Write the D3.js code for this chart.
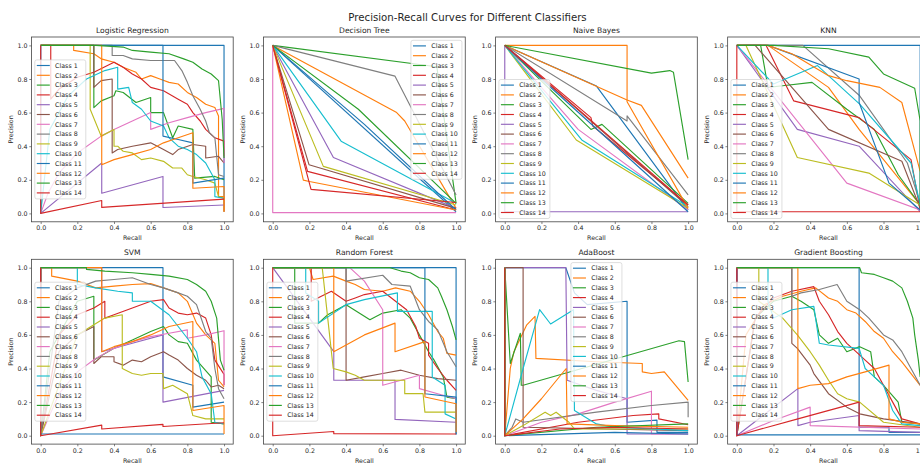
<!DOCTYPE html>
<html>
<head>
<meta charset="utf-8">
<script src="https://cdn.jsdelivr.net/npm/d3@7"></script>
<style>
  body { margin: 0; background: #fff; }
  text { font-family: "DejaVu Sans", sans-serif; fill: #262626; }
</style>
</head>
<body>
<div class="chart-container"></div>
<script>
//Data
const chartTitle = 'Precision-Recall Curves for Different Classifiers';
const classifierNames = ['Logistic Regression', 'Decision Tree', 'Naive Bayes', 'KNN',
                         'SVM', 'Random Forest', 'AdaBoost', 'Gradient Boosting'];
const classNames = ['Class 1', 'Class 2', 'Class 3', 'Class 4', 'Class 5', 'Class 6', 'Class 7',
                    'Class 8', 'Class 9', 'Class 10', 'Class 11', 'Class 12', 'Class 13', 'Class 14'];
const tickValues = [0, 0.2, 0.4, 0.6, 0.8, 1.0];
const tickLabels = ['0.0', '0.2', '0.4', '0.6', '0.8', '1.0'];

// each curve: [recall, precision] points, one curve per class
const logisticRegression = [
  [[1,0.01],[1,1],[0,1]],
  [[1,0.01],[1,0.1],[0.97,0.1],[0.97,0.58],[0.95,0.63],[0.9,0.65],[0.85,0.69],[0.8,0.72],[0.75,0.77],[0.7,0.78],[0.65,0.8],[0.6,0.82],[0.55,0.8],[0.52,0.84],[0.45,0.87],[0.4,0.9],[0.33,0.92],[0.29,0.95],[0.18,0.97],[0.18,1],[0,1]],
  [[1,0.2],[0.95,0.22],[0.84,0.21],[0.83,0.5],[0.75,0.52],[0.72,0.45],[0.67,0.6],[0.6,0.6],[0.6,0.69],[0.52,0.66],[0.45,0.72],[0.41,0.73],[0.4,0.7],[0.33,0.67],[0.29,0.63],[0.29,1],[0,1]],
  [[1,0.34],[1,0.43],[0.95,0.45],[0.9,0.5],[0.87,0.55],[0.83,0.6],[0.8,0.65],[0.75,0.68],[0.67,0.73],[0.6,0.75],[0.55,0.8],[0.5,0.83],[0.45,0.87],[0.4,0.9],[0.29,0.84],[0.2,0.81],[0.1,0.74],[0.055,0.68],[0.055,1],[0,1]],
  [[1,0.05],[0.667,0.035],[0.667,0.22],[0.333,0.12],[0.333,0.3],[0,0],[0,1]],
  [[1,0.3],[0.97,0.34],[0.9,0.33],[0.9,0.4],[0.83,0.41],[0.75,0.38],[0.72,0.35],[0.67,0.38],[0.6,0.42],[0.5,0.4],[0.42,0.38],[0.39,0.36],[0.39,0.8],[0.33,0.79],[0.29,0.75],[0.29,1],[0,1]],
  [[1,0.3],[1,0.625],[0.9,0.6],[0.8,0.57],[0.7,0.54],[0.6,0.5],[0.6,0.6],[0.5,0.55],[0.4,0.5],[0.33,0.46],[0.2,0.36],[0.1,0.24],[0.04,0.12],[0,0],[0,1]],
  [[1,0.22],[0.97,0.23],[0.95,0.45],[0.92,0.48],[0.9,0.55],[0.87,0.62],[0.83,0.7],[0.8,0.78],[0.77,0.85],[0.73,0.91],[0.6,0.91],[0.5,0.92],[0.45,0.94],[0.39,0.94],[0.39,1],[0,1]],
  [[1,0.09],[0.97,0.1],[0.95,0.18],[0.9,0.2],[0.83,0.22],[0.8,0.23],[0.77,0.27],[0.72,0.27],[0.67,0.31],[0.6,0.33],[0.55,0.32],[0.5,0.36],[0.45,0.37],[0.42,0.4],[0.4,0.4],[0.4,0.5],[0.33,0.46],[0.27,0.62],[0.27,1],[0,1]],
  [[1,0.09],[0.95,0.1],[0.95,0.2],[0.9,0.3],[0.85,0.35],[0.8,0.38],[0.75,0.4],[0.7,0.45],[0.67,0.52],[0.6,0.55],[0.55,0.62],[0.5,0.66],[0.48,0.75],[0.42,0.74],[0.42,0.87],[0.35,0.85],[0.25,0.8],[0.15,0.7],[0.05,0.5],[0,0],[0,1]],
  [[1,0.21],[0.83,0.18],[0.83,0.42],[0.75,0.44],[0.667,0.46],[0.667,1],[0,1]],
  [[1,0.01],[1,0.16],[0.83,0.15],[0.83,0.48],[0.75,0.45],[0.67,0.42],[0.6,0.38],[0.5,0.35],[0.4,0.32],[0.333,0.29],[0.333,1],[0,1]],
  [[1,0.33],[0.99,0.56],[0.97,0.79],[0.93,0.83],[0.88,0.86],[0.83,0.9],[0.78,0.92],[0.7,0.95],[0.6,0.96],[0.5,0.97],[0.45,0.99],[0.3,1],[0,1]],
  [[1,0.085],[0.333,0.036],[0.333,0.077],[0,0],[0,1]]
];

const decisionTree = [
  [[1,0.01],[0,1]],
  [[1,0.03],[0.72,0.55],[0.676,0.6],[0,1]],
  [[1,0.06],[0.895,0.873],[0,1]],
  [[1,0.02],[0.19,0.25],[0,1]],
  [[1,0.03],[0.331,0.333],[0,1]],
  [[1,0.03],[0.198,0.29],[0,1]],
  [[1,0.005],[0,0.005],[0,1]],
  [[1,0.11],[0.667,0.817],[0,1]],
  [[1,0.05],[0.276,0.28],[0,1]],
  [[1,0.06],[0.373,0.43],[0,1]],
  [[1,0.02],[0.5,0.53],[0,1]],
  [[1,0.02],[0.2,0.19],[0.167,0.198],[0,1]],
  [[1,0.06],[0.467,0.62],[0,1]],
  [[1,0.065],[0.209,0.143],[0,1]]
];

const naiveBayes = [
  [[1,0.02],[0.5,0.758],[0,1]],
  [[1,0.21],[0.745,0.643],[0.667,0.675],[0,1]],
  [[1,0.06],[0.53,0.53],[0.47,0.5],[0,1]],
  [[1,0.05],[0.48,0.52],[0.47,0.57],[0,1]],
  [[1,0.01],[0,0.01],[0,1]],
  [[1,0.04],[0,1]],
  [[1,0.02],[0.4,0.5],[0,1]],
  [[1,0.11],[0.667,0.58],[0.667,0.55],[0,1]],
  [[1,0.03],[0.39,0.437],[0,1]],
  [[1,0.04],[0.42,0.437],[0,1]],
  [[1,0.01],[0.2,0.8],[0,1]],
  [[1,0.03],[0.667,0.665],[0.667,1],[0,1]],
  [[1,0.32],[0.92,0.84],[0.9,0.85],[0.8,0.835],[0,1]],
  [[1,0.05],[0,1]]
];

const knn = [
  [[1,0.01],[1,1],[0,1]],
  [[1,0.05],[0.667,0.5],[0.5,0.75],[0.17,1],[0,1]],
  [[1,0.05],[0.88,0.23],[0.75,0.5],[0.6,0.62],[0.41,0.78],[0.25,0.76],[0.17,0.75],[0.13,1],[0,1]],
  [[1,0.02],[0.95,0.32],[0.667,0.57],[0.31,0.67],[0.16,1],[0,1]],
  [[1,0.01],[0.667,0.4],[0.33,0.5],[0,1]],
  [[1,0.03],[0.9,0.31],[0.5,0.5],[0.1,1],[0,1]],
  [[1,0.02],[0.6,0.18],[0,1]],
  [[1,0.06],[0.93,0.3],[0.67,0.7],[0.36,1],[0,1]],
  [[1,0.05],[0.72,0.24],[0.33,0.333],[0.05,1],[0,1]],
  [[1,0.05],[0.95,0.3],[0.67,0.65],[0.44,0.88],[0.2,0.77],[0,1]],
  [[1,0.02],[0.83,0.18],[0.667,0.66],[0.667,0.8],[0.17,1],[0,1]],
  [[1,0.25],[0.9,0.66],[0.78,0.75],[0.6,0.79],[0.5,0.82],[0.3,0.95],[0.17,1],[0,1]],
  [[1,0.05],[1,0.55],[0.97,0.745],[0.8,0.83],[0.72,0.93],[0.5,0.98],[0.2,1],[0,1]],
  [[1,0.01],[0,0.01],[0,1]]
];

const svm = [
  [[1,0.2],[0.83,0.17],[0.83,0.3],[0.667,0.35],[0.667,1],[0,1]],
  [[1,0.29],[0.97,0.33],[0.95,0.55],[0.9,0.6],[0.85,0.67],[0.8,0.8],[0.75,0.85],[0.67,0.88],[0.6,0.905],[0.5,0.9],[0.4,0.89],[0.3,0.88],[0.2,0.92],[0.06,0.95],[0.06,1],[0,1]],
  [[1,0.07],[0.93,0.08],[0.93,0.35],[0.85,0.45],[0.8,0.55],[0.75,0.56],[0.7,0.6],[0.67,0.65],[0.6,0.62],[0.5,0.57],[0.4,0.52],[0.29,0.45],[0.29,0.83],[0.2,0.8],[0.05,0.5],[0,0],[0,1]],
  [[1,0.3],[1,0.365],[0.95,0.45],[0.93,0.6],[0.9,0.7],[0.85,0.73],[0.8,0.72],[0.75,0.73],[0.7,0.76],[0.67,0.81],[0.6,0.8],[0.5,0.76],[0.4,0.72],[0.35,0.7],[0.35,0.8],[0.29,0.76],[0.2,0.72],[0.1,0.6],[0,0],[0,1]],
  [[1,0.27],[0.667,0.2],[0.667,0.6],[0.5,0.55],[0.333,0.5],[0.333,1],[0.24,1],[0,1]],
  [[1,0.28],[0.97,0.3],[0.93,0.29],[0.9,0.33],[0.85,0.36],[0.8,0.4],[0.75,0.45],[0.7,0.48],[0.67,0.5],[0.6,0.47],[0.55,0.44],[0.5,0.45],[0.45,0.42],[0.4,0.44],[0.4,0.47],[0.33,0.47],[0.29,0.43],[0.29,0.65],[0.2,0.6],[0.1,0.5],[0,0],[0,1]],
  [[1,0.3],[1,0.625],[0.9,0.6],[0.8,0.58],[0.8,0.63],[0.7,0.61],[0.6,0.59],[0.5,0.56],[0.4,0.52],[0.3,0.46],[0.2,0.38],[0.1,0.25],[0,0],[0,1]],
  [[1,0.22],[0.97,0.28],[0.95,0.4],[0.93,0.58],[0.9,0.62],[0.85,0.78],[0.8,0.83],[0.75,0.85],[0.67,0.88],[0.6,0.9],[0.5,0.94],[0.4,0.93],[0.3,0.92],[0.2,0.88],[0.1,0.8],[0,0],[0,1]],
  [[1,0.1],[0.9,0.1],[0.83,0.12],[0.8,0.25],[0.72,0.3],[0.67,0.28],[0.667,0.37],[0.6,0.37],[0.55,0.36],[0.5,0.37],[0.445,0.4],[0.445,0.72],[0.35,0.7],[0.29,0.66],[0.2,0.6],[0,0],[0,1]],
  [[1,0.07],[0.95,0.08],[0.93,0.25],[0.88,0.35],[0.85,0.5],[0.8,0.58],[0.75,0.65],[0.7,0.72],[0.6,0.8],[0.5,0.8],[0.5,0.85],[0.42,0.86],[0.3,0.88],[0.2,0.9],[0.2,1],[0,1]],
  [[1,0.01],[0,0.01],[0,1]],
  [[1,0.01],[1,0.18],[0.83,0.15],[0.83,0.68],[0.7,0.65],[0.6,0.6],[0.5,0.56],[0.4,0.53],[0.333,0.5],[0.333,1],[0,1]],
  [[1,0.39],[0.98,0.45],[0.96,0.7],[0.93,0.8],[0.9,0.86],[0.85,0.9],[0.8,0.93],[0.7,0.95],[0.6,0.96],[0.5,0.97],[0.35,0.98],[0.25,0.99],[0.25,1],[0,1]],
  [[1,0.077],[0.667,0.055],[0.667,0.067],[0.333,0.04],[0.333,0.063],[0,0],[0,1]]
];

const randomForest = [
  [[1,0.01],[1,1],[0,1]],
  [[1,0.48],[0.95,0.49],[0.93,0.58],[0.9,0.62],[0.85,0.72],[0.8,0.8],[0.75,0.86],[0.67,0.88],[0.6,0.86],[0.5,0.87],[0.45,0.9],[0.4,0.92],[0.33,0.95],[0.22,0.93],[0.2,1],[0,1]],
  [[1,0.22],[0.95,0.23],[0.93,0.35],[0.88,0.45],[0.85,0.5],[0.8,0.6],[0.75,0.7],[0.7,0.75],[0.6,0.73],[0.53,0.69],[0.4,0.78],[0.3,0.72],[0.25,0.67],[0.12,0.67],[0.12,1],[0,1]],
  [[1,0.27],[0.95,0.33],[0.9,0.4],[0.85,0.48],[0.85,0.55],[0.8,0.58],[0.78,0.65],[0.73,0.75],[0.67,0.8],[0.6,0.86],[0.5,0.84],[0.45,0.82],[0.4,0.8],[0.32,0.86],[0.21,0.8],[0.21,1],[0,1]],
  [[1,0.08],[0.667,0.097],[0.667,0.33],[0.333,0.33],[0.333,0.5],[0,1]],
  [[1,0.33],[0.9,0.34],[0.8,0.36],[0.7,0.39],[0.6,0.37],[0.5,0.35],[0.4,0.33],[0.4,1],[0,1]],
  [[1,0.22],[0.9,0.25],[0.8,0.28],[0.8,0.36],[0.7,0.33],[0.6,0.3],[0.6,0.75],[0.5,0.92],[0.42,1],[0,1]],
  [[1,0.41],[0.95,0.5],[0.9,0.63],[0.85,0.68],[0.8,0.75],[0.75,0.89],[0.65,0.9],[0.6,0.955],[0.4,0.92],[0.4,1],[0,1]],
  [[1,0.14],[0.83,0.14],[0.82,0.25],[0.72,0.25],[0.72,0.33],[0.6,0.33],[0.5,0.33],[0.45,0.36],[0.4,0.38],[0.33,0.4],[0.3,0.7],[0.27,1],[0,1]],
  [[1,0.1],[0.94,0.13],[0.94,0.3],[0.87,0.35],[0.87,0.74],[0.68,0.74],[0.68,0.85],[0.5,0.81],[0.4,0.78],[0.25,0.67],[0.25,0.8],[0.18,0.85],[0.18,1],[0,1]],
  [[1,0.005],[1,0.23],[0.83,0.25],[0.83,1],[0,1]],
  [[1,0.02],[1,0.19],[0.83,0.23],[0.83,0.56],[0.667,0.5],[0.667,0.67],[0.5,0.6],[0.333,0.5],[0.333,1],[0,1]],
  [[1,0.57],[0.98,0.65],[0.95,0.75],[0.92,0.83],[0.9,0.88],[0.85,0.93],[0.8,0.94],[0.75,0.97],[0.7,0.98],[0.64,1],[0,1]],
  [[1,0.01],[0.333,0.012],[0.333,0.025],[0,0],[0,1]]
];

const adaBoost = [
  [[1,0.02],[0.83,0.02],[0.83,0.093],[0.667,0.08],[0.667,0.8],[0.45,0.78],[0.38,0.85],[0.333,1],[0,1]],
  [[1,0.21],[0.87,0.38],[0.8,0.37],[0.75,0.38],[0.75,0.43],[0.5,0.44],[0.17,0.46],[0.165,0.71],[0.12,0.66],[0.05,0.5],[0.03,0.4],[0,0],[0,1]],
  [[1,0.32],[0.98,0.56],[0.95,0.565],[0.1,0.3],[0.09,0.3],[0.085,0.61],[0.03,0.43],[0,1]],
  [[1,0.065],[0.84,0.1],[0.84,0.13],[0.7,0.12],[0.4,0.08],[0,0],[0,1]],
  [[1,0.01],[0.667,0.01],[0.667,0.22],[0.5,0.27],[0.34,0.33],[0.333,1],[0.1,1],[0,1]],
  [[1,0.03],[0.1,0.05],[0.1,1],[0,1]],
  [[1,0.01],[0.8,0.01],[0.8,0.265],[0.6,0.2],[0.4,0.13],[0.2,0.08],[0,0],[0,1]],
  [[1,0.11],[1,0.2],[0.8,0.18],[0.5,0.14],[0.1,0.08],[0.06,0.1],[0.04,0.05],[0,0],[0,1]],
  [[1,0.04],[0.38,0.04],[0.35,0.08],[0.28,0.14],[0.25,0.12],[0.22,0.14],[0.1,0.06],[0,0],[0,1]],
  [[1,0.03],[0.6,0.05],[0.5,0.07],[0.38,0.15],[0.375,0.75],[0.25,0.665],[0.19,0.75],[0.1,0.4],[0,0],[0,1]],
  [[1,0.01],[0.6,0.02],[0,0],[0,1]],
  [[1,0.05],[0.6,0.06],[0.34,0.07],[0.335,0.4],[0.2,0.22],[0.1,0.1],[0,0],[0,1]],
  [[1,0.07],[0.5,0.05],[0,0],[0,1]],
  [[1,0.04],[0.6,0.05],[0.3,0.04],[0,0],[0,1]]
];

const gradientBoosting = [
  [[1,0.02],[0.83,0.02],[0.83,0.05],[0.667,0.05],[0.667,1],[0,1]],
  [[1,0.3],[0.95,0.37],[0.9,0.44],[0.85,0.5],[0.8,0.58],[0.75,0.62],[0.7,0.68],[0.65,0.73],[0.6,0.75],[0.55,0.8],[0.5,0.82],[0.43,0.88],[0.35,0.86],[0.25,0.83],[0.15,0.78],[0.05,0.6],[0,0],[0,1]],
  [[1,0.07],[0.9,0.08],[0.88,0.2],[0.8,0.3],[0.75,0.35],[0.73,0.5],[0.67,0.53],[0.6,0.5],[0.55,0.58],[0.5,0.55],[0.45,0.6],[0.42,0.75],[0.35,0.8],[0.3,0.83],[0.2,0.8],[0.1,0.7],[0,0],[0,1]],
  [[1,0.07],[0.9,0.1],[0.85,0.2],[0.8,0.3],[0.75,0.4],[0.7,0.45],[0.65,0.5],[0.6,0.55],[0.55,0.62],[0.5,0.72],[0.45,0.8],[0.42,0.887],[0.3,0.86],[0.2,0.82],[0.1,0.7],[0,0],[0,1]],
  [[1,0.02],[0.667,0.03],[0.667,0.12],[0.4,0.08],[0.333,0.06],[0.333,0.28],[0,0],[0,1]],
  [[1,0.07],[0.8,0.1],[0.67,0.13],[0.6,0.17],[0.5,0.25],[0.42,0.37],[0.4,0.42],[0.33,0.52],[0.3,0.55],[0.3,1],[0,1]],
  [[1,0.04],[0.4,0.06],[0.4,0.17],[0.2,0.09],[0,0],[0,1]],
  [[1,0.3],[0.95,0.4],[0.9,0.5],[0.85,0.57],[0.8,0.6],[0.72,0.7],[0.67,0.75],[0.6,0.8],[0.547,0.9],[0.45,0.87],[0.35,0.85],[0.3,0.83],[0.3,1],[0,1]],
  [[1,0.05],[0.8,0.08],[0.67,0.2],[0.6,0.22],[0.55,0.25],[0.5,0.33],[0.45,0.42],[0.4,0.5],[0.33,0.6],[0.25,0.7],[0.12,0.8],[0.12,1],[0,1]],
  [[1,0.06],[0.9,0.07],[0.85,0.15],[0.8,0.3],[0.7,0.4],[0.667,0.52],[0.5,0.54],[0.45,0.55],[0.42,0.77],[0.3,0.75],[0.2,0.7],[0.17,0.8],[0.17,1],[0,1]],
  [[1,0.005],[0,0.005],[0,1]],
  [[1,0.07],[0.9,0.08],[0.83,0.1],[0.83,0.42],[0.7,0.38],[0.6,0.35],[0.5,0.31],[0.4,0.3],[0.333,0.28],[0.333,1],[0,1]],
  [[1,0.35],[0.99,0.45],[0.97,0.6],[0.96,0.7],[0.93,0.8],[0.9,0.88],[0.85,0.92],[0.8,0.94],[0.75,0.96],[0.68,0.97],[0.67,1],[0,1]],
  [[1,0.05],[0.667,0.06],[0.667,0.2],[0.333,0.1],[0,0],[0,1]]
];

const classifierCurves = [logisticRegression, decisionTree, naiveBayes, knn,
                          svm, randomForest, adaBoost, gradientBoosting];
const legendLocs = ['center left', 'upper right', 'lower left', 'lower left',
                    'center left', 'center left', 'upper center', 'center left'];

//Colours (matplotlib tab10 cycle)
const palette = ['#1f77b4', '#ff7f0e', '#2ca02c', '#d62728', '#9467bd',
                 '#8c564b', '#e377c2', '#7f7f7f', '#bcbd22', '#17becf'];

//Layout
const W = 920, H = 463;
const plotW = 201.7, plotH = 184.8;
const colLeft = c => 31.5 + c * 232.05;
const rowTop = r => 37 + r * 222.3;

const svg = d3.select('.chart-container')
  .append('svg')
  .attr('width', W)
  .attr('height', H);

svg.append('text')
  .attr('x', 467.5)
  .attr('y', 20.5)
  .attr('text-anchor', 'middle')
  .style('font-size', '10.2px')
  .text(chartTitle);

const xScale = d3.scaleLinear([-0.05, 1.05], [0, plotW]);
const yScale = d3.scaleLinear([-0.05, 1.05], [plotH, 0]);
const line = d3.line().x(d => xScale(d[0])).y(d => yScale(d[1]));

classifierNames.forEach((name, i) => {
  const col = i % 4, row = Math.floor(i / 4);
  const g = svg.append('g')
    .attr('transform', `translate(${colLeft(col)}, ${rowTop(row)})`);

  g.append('clipPath').attr('id', 'clip' + i)
    .append('rect').attr('width', plotW).attr('height', plotH);

  //Curves
  g.append('g')
    .attr('clip-path', `url(#clip${i})`)
    .selectAll('path')
    .data(classifierCurves[i])
    .enter()
    .append('path')
    .attr('d', line)
    .attr('fill', 'none')
    .attr('stroke', (d, k) => palette[k % 10])
    .attr('stroke-width', 1.15)
    .attr('stroke-linejoin', 'round');

  //Axes
  const xAxis = d3.axisBottom(xScale).tickValues(tickValues)
    .tickFormat((d, k) => tickLabels[k]).tickSize(2.2).tickPadding(1.8);
  const yAxis = d3.axisLeft(yScale).tickValues(tickValues)
    .tickFormat((d, k) => tickLabels[k]).tickSize(2.2).tickPadding(1.8);

  const xg = g.append('g').attr('transform', `translate(0, ${plotH})`).call(xAxis);
  const yg = g.append('g').call(yAxis);
  [xg, yg].forEach(a => {
    a.select('.domain').remove();
    a.selectAll('line').attr('stroke', '#333').attr('stroke-width', 0.6);
    a.selectAll('text').style('font-size', '6.3px').attr('fill', '#262626');
  });

  g.append('rect')
    .attr('width', plotW).attr('height', plotH)
    .attr('fill', 'none').attr('stroke', '#444').attr('stroke-width', 0.8);

  //Titles
  g.append('text')
    .attr('x', plotW / 2).attr('y', -4.5)
    .attr('text-anchor', 'middle')
    .style('font-size', '7.6px')
    .text(name);

  g.append('text')
    .attr('x', plotW / 2).attr('y', plotH + 18.5)
    .attr('text-anchor', 'middle')
    .style('font-size', '6.3px')
    .text('Recall');

  g.append('text')
    .attr('transform', `translate(-18.5, ${plotH / 2}) rotate(-90)`)
    .attr('text-anchor', 'middle')
    .style('font-size', '6.3px')
    .text('Precision');

  //Legend
  const legW = 51, legH = 139, pad = 3.3;
  const loc = legendLocs[i];
  let lx = pad, ly = (plotH - legH) / 2;
  if (loc === 'upper right') { lx = plotW - legW - pad; ly = pad; }
  if (loc === 'lower left') { ly = plotH - legH - pad; }
  if (loc === 'upper center') { lx = (plotW - legW) / 2; ly = pad; }

  const leg = g.append('g').attr('transform', `translate(${lx}, ${ly})`);
  leg.append('rect')
    .attr('width', legW).attr('height', legH)
    .attr('rx', 2)
    .attr('fill', 'white').attr('fill-opacity', 0.8)
    .attr('stroke', '#d0d0d0').attr('stroke-width', 0.7);

  const items = leg.selectAll('.item')
    .data(classNames)
    .enter()
    .append('g')
    .attr('transform', (d, k) => `translate(0, ${5.6 + k * 9.8})`);
  items.append('line')
    .attr('x1', 2).attr('x2', 15)
    .attr('stroke', (d, k) => palette[k % 10])
    .attr('stroke-width', 1.15);
  items.append('text')
    .attr('x', 20.3).attr('dy', '0.35em')
    .style('font-size', '6.3px')
    .text(d => d);
});
</script>
</body>
</html>
